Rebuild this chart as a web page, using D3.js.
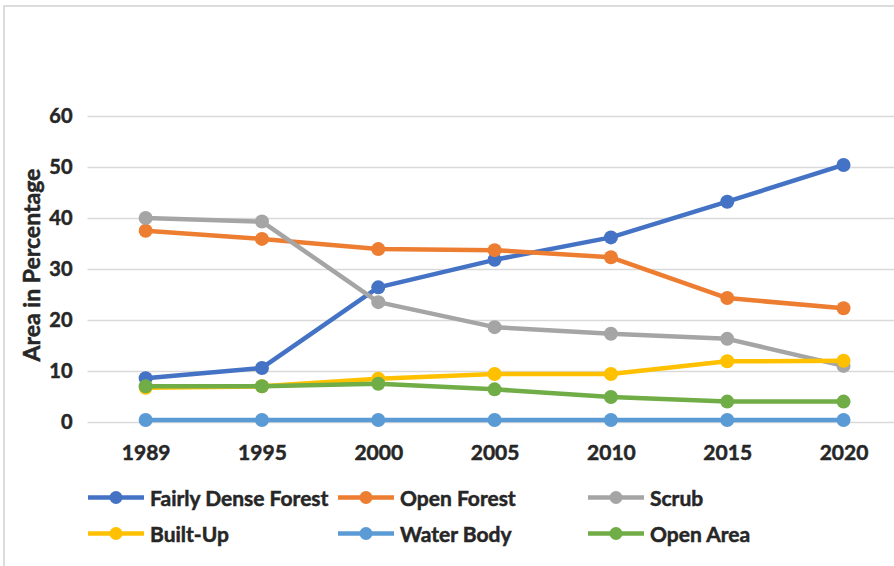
<!DOCTYPE html>
<html>
<head>
<meta charset="utf-8">
<script src="https://cdn.jsdelivr.net/npm/d3@7"></script>
<style>
  html, body { margin: 0; padding: 0; background: #fff; }
  svg { display: block; }
  text { font-family: Lato, "Open Sans", "Liberation Sans", sans-serif; font-weight: 700;
         fill: #262626; stroke: #262626; stroke-width: 0.5px; }
</style>
</head>
<body>
<svg id="chart" width="894" height="566"></svg>
<script>
// Land-cover share over time (% of area)
const years = ["1989", "1995", "2000", "2005", "2010", "2015", "2020"];
const seriesNames = ["Fairly Dense Forest", "Open Forest", "Scrub", "Built-Up", "Water Body", "Open Area"];
const fairlyDenseForest = [8.6, 10.6, 26.4, 31.8, 36.2, 43.2, 50.4];
const openForest        = [37.5, 35.9, 33.9, 33.7, 32.3, 24.3, 22.3];
const scrub             = [40.0, 39.3, 23.5, 18.6, 17.3, 16.3, 11.0];
const builtUp           = [6.7, 7.0, 8.5, 9.4, 9.4, 11.9, 12.0];
const waterBody         = [0.4, 0.4, 0.4, 0.4, 0.4, 0.4, 0.4];
const openArea          = [7.0, 7.0, 7.5, 6.4, 4.9, 4.0, 4.0];
const yTicks = [0, 10, 20, 30, 40, 50, 60];
const colors = ["#4472C4", "#ED7D31", "#A5A5A5", "#FFC000", "#5B9BD5", "#70AD47"];

const seriesValues = [fairlyDenseForest, openForest, scrub, builtUp, waterBody, openArea];
const series = seriesNames.map((name, i) => ({
  name, color: colors[i],
  points: years.map((y, j) => ({ year: y, value: seriesValues[i][j] }))
}));

const svg = d3.select("#chart");
const plot = { left: 87.5, right: 901.7, top: 116, bottom: 422 };

// outer chart frame
svg.append("path")
  .attr("d", "M4,566 L4,6 L894,6")
  .attr("fill", "none").attr("stroke", "#dcdcdc").attr("stroke-width", 2);

const x = d3.scalePoint().domain(years).range([plot.left, plot.right]).padding(0.5);
const y = d3.scaleLinear().domain([0, 60]).range([plot.bottom, plot.top]);

// value axis with gridlines
const yAxis = svg.append("g")
  .attr("transform", `translate(${plot.left},0)`)
  .call(d3.axisLeft(y).tickValues(yTicks).tickSize(-(plot.right - plot.left)).tickPadding(15));
yAxis.select(".domain").remove();
yAxis.selectAll(".tick line").attr("stroke", "#d9d9d9").attr("stroke-width", 1.5);
yAxis.selectAll(".tick text")
  .style("font-size", "20px").attr("fill", "#262626");

// category axis labels
const xAxis = svg.append("g")
  .attr("transform", `translate(0,${plot.bottom})`)
  .call(d3.axisBottom(x).tickSize(0).tickPadding(23));
xAxis.select(".domain").remove();
xAxis.selectAll(".tick text")
  .style("font-size", "21px").attr("fill", "#262626");

// axis title
svg.append("text")
  .attr("transform", `translate(31,${(plot.top + plot.bottom) / 2 - 4}) rotate(-90)`)
  .attr("text-anchor", "middle").attr("dominant-baseline", "central")
  .style("font-size", "23px")
  .text("Area in Percentage");

// series lines and markers
const line = d3.line().x(d => x(d.year)).y(d => y(d.value));
const g = svg.append("g");
series.forEach(s => {
  const sg = g.append("g");
  sg.append("path")
    .attr("d", line(s.points))
    .attr("fill", "none").attr("stroke", s.color)
    .attr("stroke-width", 4.5).attr("stroke-linejoin", "round").attr("stroke-linecap", "round");
  sg.selectAll("circle").data(s.points).join("circle")
    .attr("cx", d => x(d.year)).attr("cy", d => y(d.value))
    .attr("r", 7).attr("fill", s.color);
});

// legend: 3 columns x 2 rows
const legend = svg.append("g");
series.forEach((s, i) => {
  const col = i % 3, row = Math.floor(i / 3);
  const lx = 88 + col * 250, ly = 497.5 + row * 36;
  const item = legend.append("g").attr("transform", `translate(${lx},${ly})`);
  item.append("line").attr("x1", 0).attr("x2", 56).attr("y1", 0).attr("y2", 0)
    .attr("stroke", s.color).attr("stroke-width", 4.5);
  item.append("circle").attr("cx", 28).attr("cy", 0).attr("r", 6.5).attr("fill", s.color);
  item.append("text").attr("x", 62).attr("y", 0)
    .attr("dominant-baseline", "central")
    .style("font-size", "21px")
    .text(s.name);
});
</script>
</body>
</html>
